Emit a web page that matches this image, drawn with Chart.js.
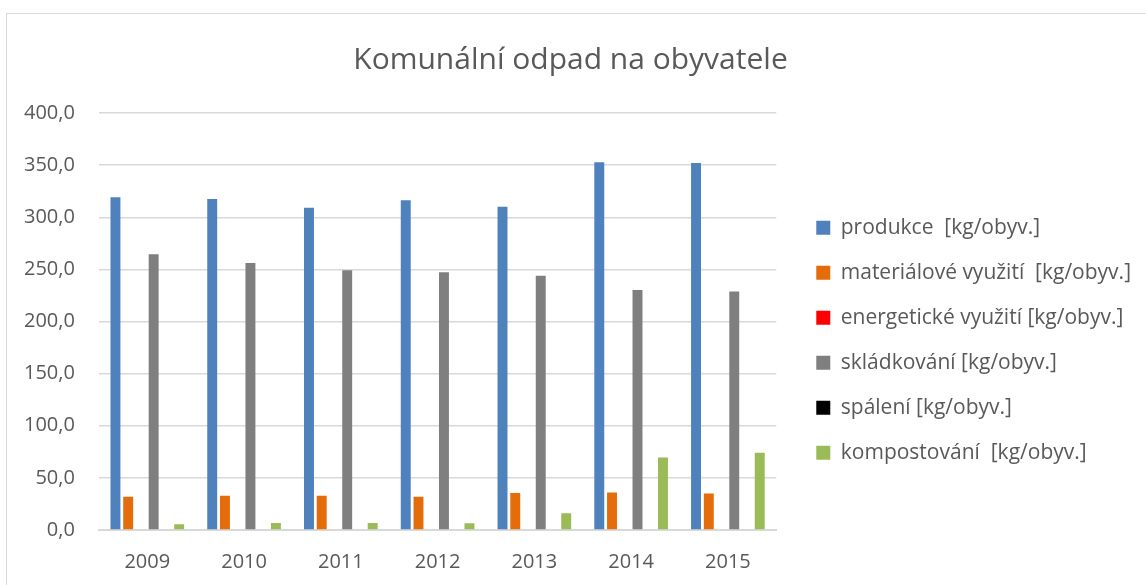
<!DOCTYPE html>
<html>
<head>
<meta charset="utf-8">
<script src="https://cdn.jsdelivr.net/npm/chart.js@4.4.1/dist/chart.umd.min.js"></script>
<style>
  html, body { margin: 0; padding: 0; background: #fff; overflow: hidden; }
  #frame { position: absolute; left: 6px; top: 13px; width: 1200px; height: 700px; border: 1px solid #d9d9d9; }
  #wrap { position: absolute; left: 0; top: 0; width: 1146px; height: 594px; }
</style>
</head>
<body>
<div id="frame"></div>
<div id="wrap"><canvas id="barChart"></canvas></div>
<script>
// data
const years = ['2009', '2010', '2011', '2012', '2013', '2014', '2015'];
const produkce = [319.3, 317.4, 309.1, 316.4, 310.0, 352.8, 352.1];
const materialove = [31.9, 32.8, 32.8, 31.9, 35.4, 36.0, 35.1];
const energeticke = [0, 0, 0, 0, 0, 0, 0];
const skladkovani = [264.4, 256.2, 249.1, 247.2, 244.0, 230.3, 228.7];
const spaleni = [0, 0, 0, 0, 0, 0, 0];
const kompostovani = [5.4, 6.7, 6.7, 6.4, 16.0, 69.5, 74.0];
const yTicks = [0, 50, 100, 150, 200, 250, 300, 350, 400];

const font = "'Open Sans', 'DejaVu Sans', sans-serif";
const textColor = '#595959';

const ctx = document.getElementById('barChart').getContext('2d');
new Chart(ctx, {
    type: 'bar',
    data: {
        labels: years,
        datasets: [
            { label: 'produkce  [kg/obyv.]', data: produkce, backgroundColor: '#4f81bd' },
            { label: 'materiálové využití  [kg/obyv.]', data: materialove, backgroundColor: '#e46c0a' },
            { label: 'energetické využití [kg/obyv.]', data: energeticke, backgroundColor: '#ff0000' },
            { label: 'skládkování [kg/obyv.]', data: skladkovani, backgroundColor: '#7f7f7f' },
            { label: 'spálení [kg/obyv.]', data: spaleni, backgroundColor: '#000000' },
            { label: 'kompostování  [kg/obyv.]', data: kompostovani, backgroundColor: '#9bbb59' }
        ]
    },
    options: {
        responsive: true,
        maintainAspectRatio: false,
        animation: false,
        datasets: {
            bar: { categoryPercentage: 0.79, barPercentage: 0.78 }
        },
        layout: { padding: { left: 0, right: 5, top: 0, bottom: 0 } },
        plugins: {
            title: {
                display: true,
                text: 'Komunální odpad na obyvatele',
                color: textColor,
                font: { family: font, size: 30, weight: 'normal' },
                padding: { top: 42, bottom: 35 }
            },
            legend: {
                position: 'right',
                maxWidth: 400,
                // empty title only pushes the list down, as in the original
                title: { display: true, text: '', font: { size: 12 }, padding: { top: 72, bottom: 0 } },
                labels: {
                    color: textColor,
                    font: { family: font, size: 21 },
                    boxWidth: 14,
                    boxHeight: 14,
                    padding: 24
                }
            },
            tooltip: { enabled: false }
        },
        scales: {
            x: {
                grid: { display: false, drawTicks: false },
                border: { color: '#d9d9d9', width: 2 },
                ticks: { color: textColor, font: { family: font, size: 20 }, padding: 20 }
            },
            y: {
                min: 0,
                max: 400,
                afterBuildTicks: (axis) => { axis.ticks = yTicks.map(v => ({ value: v })); },
                grid: { color: '#d9d9d9', lineWidth: 1.5, drawTicks: false },
                border: { display: false },
                ticks: {
                    color: textColor,
                    font: { family: font, size: 20 },
                    padding: 24,
                    callback: (v) => v.toFixed(1).replace('.', ',')
                }
            },
            // empty spacer between the plot and the legend
            gap: {
                type: 'linear',
                position: 'right',
                display: true,
                grid: { display: false, drawTicks: false },
                border: { display: false },
                ticks: { display: false },
                afterFit: (axis) => { axis.width = 16; }
            }
        }
    }
});
</script>
</body>
</html>
